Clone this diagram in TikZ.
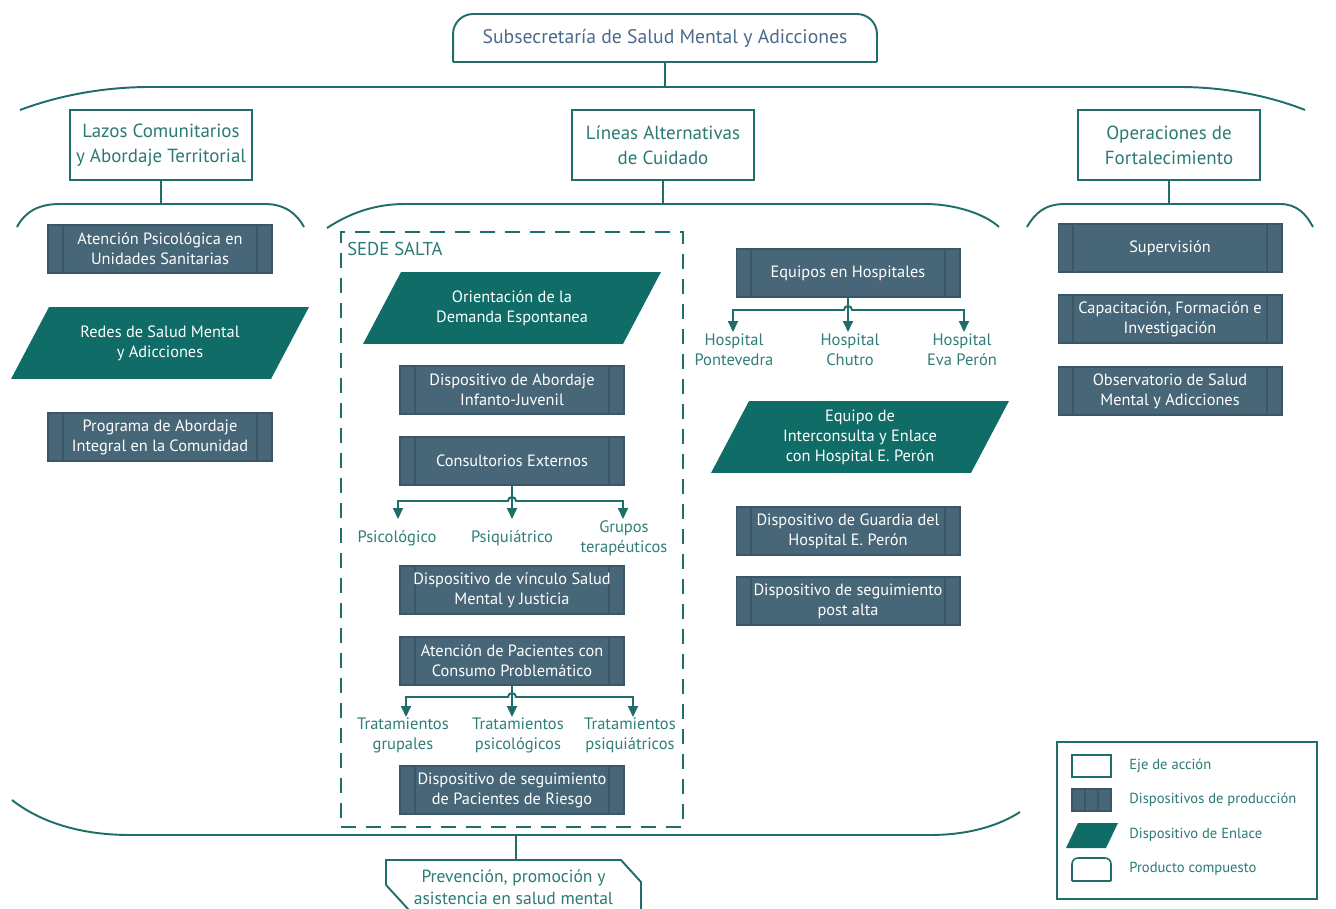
\documentclass[tikz,border=0pt]{standalone}
\usepackage{fontspec}
\setmainfont{PT Sans}
\usetikzlibrary{arrows.meta,backgrounds}

\definecolor{lineteal}{HTML}{1F6E69}
\definecolor{ejetext}{HTML}{2B7A74}
\definecolor{labeltext}{HTML}{2F7E79}
\definecolor{devfill}{HTML}{476677}
\definecolor{devline}{HTML}{3A5767}
\definecolor{enlfill}{HTML}{0F6C67}
\definecolor{titletext}{HTML}{4C6A8A}

\begin{document}
\begin{tikzpicture}[x=0.02cm,y=-0.02cm,
  >={Triangle[width=0.2cm,length=0.22cm]},
  tealframe/.style={draw=lineteal, line width=1.1pt},
  link/.style={draw=lineteal, line width=1.1pt},
  eje/.style={tealframe, fill=white, minimum width=3.64cm, minimum height=1.4cm,
    outer sep=0pt, align=center, text=ejetext, font=\fontsize{10.8}{14.2}\selectfont},
  devbox/.style={fill=devfill, draw=devline, line width=0.6pt, minimum width=4.48cm,
    minimum height=0.96cm, outer sep=0pt, align=center, text=white,
    font=\fontsize{9.3}{11.4}\selectfont,
    path picture={
      \draw[devline, line width=0.9pt]
        ([xshift=0.3cm]path picture bounding box.north west) -- ([xshift=0.3cm]path picture bounding box.south west)
        ([xshift=-0.3cm]path picture bounding box.north east) -- ([xshift=-0.3cm]path picture bounding box.south east);}},
  enlace/.style={minimum width=5.2cm, minimum height=1.44cm, outer sep=0pt, inner sep=0pt,
    align=center, text=white, font=\fontsize{9.3}{11.4}\selectfont},
  lbl/.style={align=center, text=labeltext, inner sep=0pt, font=\fontsize{9.4}{11.4}\selectfont},
  legtext/.style={anchor=west, inner sep=0pt, text=ejetext, font=\fontsize{8.3}{9.5}\selectfont}
]
\useasboundingbox (0,0) rectangle (1336,909);
\clip (0,0) rectangle (1336,909);
\begin{scope}[on background layer]
  \fill[white] (0,0) rectangle (1336,909);
\end{scope}

% ---------- head ----------
\node[minimum width=8.48cm, minimum height=0.96cm, outer sep=0pt, text=titletext,
      font=\fontsize{11.2}{13}\selectfont] (sub) at (665,38) {Subsecretaría de Salud Mental y Adicciones};
\draw[tealframe, rounded corners=0.4cm] (sub.south west) -- (sub.north west) -- (sub.north east) -- (sub.south east);
\draw[tealframe] (sub.south west) -- (sub.south east);

\coordinate (topbar) at (665,87);
\draw[link] (sub.south) -- (topbar);
\draw[link] (20,110) .. controls (60,95) and (105,87) .. (150,87) -- (1180,87)
            .. controls (1225,87) and (1270,96) .. (1305,110);

% ---------- axes ----------
\node[eje] (lazos) at (161,145) {Lazos Comunitarios\\y Abordaje Territorial};
\node[eje] (lineas) at (663,145) {Líneas Alternativas\\de Cuidado};
\node[eje] (oper) at (1169,145) {Operaciones de\\Fortalecimiento};

\coordinate (barL) at (161,204);
\coordinate (barM) at (663,204);
\coordinate (barR) at (1169,204);
\draw[link] (lazos.south) -- (barL);
\draw[link] (lineas.south) -- (barM);
\draw[link] (oper.south) -- (barR);

\draw[link] (17,227) .. controls (25,212) and (38,204) .. (60,204) -- (265,204)
            .. controls (285,204) and (297,214) .. (304,227);
\draw[link] (327,228) .. controls (350,213) and (375,204) .. (405,204) -- (925,204)
            .. controls (955,204) and (985,214) .. (999,227);
\draw[link] (1027,227) .. controls (1035,213) and (1045,204) .. (1065,204) -- (1280,204)
            .. controls (1297,204) and (1306,214) .. (1313,227);

% ---------- left column ----------
\node[devbox] (aps) at (160,249) {Atención Psicológica en\\Unidades Sanitarias};
\node[enlace] (redes) at (160,343) {Redes de Salud Mental\\y Adicciones};
\node[devbox] (prog) at (160,437) {Programa de Abordaje\\Integral en la Comunidad};

% ---------- central column: Sede Salta ----------
\node[draw=lineteal, line width=1.1pt, dash pattern=on 0.3cm off 0.2cm,
      minimum width=6.84cm, minimum height=11.9cm, outer sep=0pt] (sede) at (512,529.5) {};
\node[anchor=west, inner sep=0pt, text=ejetext, font=\fontsize{10.6}{12}\selectfont] (sedelbl) at (347,249) {SEDE SALTA};

\node[enlace] (orient) at (512,308) {Orientación de la\\Demanda Espontanea};
\node[devbox] (dai) at (512,390) {Dispositivo de Abordaje\\Infanto-Juvenil};
\node[devbox] (cons) at (512,461) {Consultorios Externos};

\node[lbl] (psico) at (397,538) {Psicológico};
\node[lbl] (psiq) at (512,538) {Psiquiátrico};
\node[lbl] (grupos) at (624,538) {Grupos\\terapéuticos};
\coordinate (consJ) at (512,501);
\coordinate (consL) at (398,519);
\coordinate (consM) at (512,519);
\coordinate (consR) at (623,519);
\draw[link,->] (cons.south) -- (consM);
\draw[link,<->] (consL) -- (consL |- consJ) -- ([xshift=-0.08cm]consJ)
      arc[start angle=180,end angle=0,radius=0.08cm] -- (consR |- consJ) -- (consR);

\node[devbox] (vinc) at (512,590) {Dispositivo de vínculo Salud\\Mental y Justicia};
\node[devbox] (acp) at (512,661) {Atención de Pacientes con\\Consumo Problemático};

\node[lbl] (tgru) at (403,735) {Tratamientos\\grupales};
\node[lbl] (tpsc) at (518,735) {Tratamientos\\psicológicos};
\node[lbl] (tpsq) at (630,735) {Tratamientos\\psiquiátricos};
\coordinate (acpJ) at (512,697);
\coordinate (acpL) at (406,717);
\coordinate (acpM) at (512,717);
\coordinate (acpR) at (633,717);
\draw[link,->] (acp.south) -- (acpM);
\draw[link,<->] (acpL) -- (acpL |- acpJ) -- ([xshift=-0.08cm]acpJ)
      arc[start angle=180,end angle=0,radius=0.08cm] -- (acpR |- acpJ) -- (acpR);

\node[devbox] (dsr) at (512,790) {Dispositivo de seguimiento\\de Pacientes de Riesgo};

% ---------- central column: hospitals ----------
\node[devbox] (eqh) at (848,273) {Equipos en Hospitales};
\node[lbl] (hpon) at (734,350) {Hospital\\Pontevedra};
\node[lbl] (hchu) at (850,350) {Hospital\\Chutro};
\node[lbl] (heva) at (962,350) {Hospital\\Eva Perón};
\coordinate (eqhJ) at (848,310);
\coordinate (eqhL) at (733,332);
\coordinate (eqhM) at (848,332);
\coordinate (eqhR) at (964,332);
\draw[link,->] (eqh.south) -- (eqhM);
\draw[link,<->] (eqhL) -- (eqhL |- eqhJ) -- ([xshift=-0.08cm]eqhJ)
      arc[start angle=180,end angle=0,radius=0.08cm] -- (eqhR |- eqhJ) -- (eqhR);

\node[enlace] (inter) at (860,437) {Equipo de\\Interconsulta y Enlace\\con Hospital E. Perón};
\node[devbox] (guard) at (848,531) {Dispositivo de Guardia del\\Hospital E. Perón};
\node[devbox] (post) at (848,601) {Dispositivo de seguimiento\\post alta};

% ---------- right column ----------
\node[devbox] (sup) at (1170,248) {Supervisión};
\node[devbox] (cap) at (1170,319) {Capacitación, Formación e\\Investigación};
\node[devbox] (obs) at (1170,391) {Observatorio de Salud\\Mental y Adicciones};

% ---------- linking parallelograms ----------
\begin{scope}[on background layer]
  \foreach \n in {redes,orient,inter}
    \fill[enlfill] ([xshift=0.38cm]\n.north west) -- ([xshift=0.38cm]\n.north east)
                -- ([xshift=-0.38cm]\n.south east) -- ([xshift=-0.38cm]\n.south west) -- cycle;
\end{scope}

% ---------- bottom ----------
\draw[link] (12,800) .. controls (40,822) and (80,835) .. (130,835) -- (930,835)
            .. controls (970,835) and (1000,825) .. (1020,812);
\coordinate (botbar) at (516,835);
\node[inner sep=0pt, align=center, text=ejetext, font=\fontsize{10}{12.4}\selectfont] (prev) at (513.5,887)
      {Prevención, promoción y\\asistencia en salud mental};
\coordinate (prevtop) at (516,860);
\draw[link] (botbar) -- (prevtop);
\draw[tealframe] ([xshift=-2.55cm,yshift=0.04cm]prev.center) -- ([xshift=-2.55cm,yshift=0.54cm]prev.center)
      -- ([xshift=2.15cm,yshift=0.54cm]prev.center) -- ([xshift=2.55cm,yshift=0.10cm]prev.center)
      -- ([xshift=2.55cm,yshift=-0.7cm]prev.center);
\draw[tealframe] ([xshift=-2.55cm,yshift=0.04cm]prev.center) -- ([xshift=-2.0cm,yshift=-0.56cm]prev.center);

% ---------- legend ----------
\node[draw=lineteal, line width=1.1pt, minimum width=5.2cm, minimum height=3.14cm, outer sep=0pt] (leg) at (1187,820.5) {};
\node[draw=lineteal, line width=0.9pt, fill=white, minimum width=0.78cm, minimum height=0.44cm, outer sep=0pt] (ic1) at (1091.5,766) {};
\node[fill=devfill, draw=devline, line width=0.6pt, minimum width=0.78cm, minimum height=0.44cm, outer sep=0pt,
      path picture={
        \draw[devline, line width=0.8pt]
          ([xshift=0.26cm]path picture bounding box.north west) -- ([xshift=0.26cm]path picture bounding box.south west)
          ([xshift=-0.26cm]path picture bounding box.north east) -- ([xshift=-0.26cm]path picture bounding box.south east);}] (ic2) at (1091.5,800) {};
\node[minimum width=0.8cm, minimum height=0.5cm, outer sep=0pt, inner sep=0pt] (ic3) at (1092,835.5) {};
\fill[enlfill] ([xshift=0.12cm]ic3.north west) -- ([xshift=0.12cm]ic3.north east)
            -- ([xshift=-0.12cm]ic3.south east) -- ([xshift=-0.12cm]ic3.south west) -- cycle;
\node[minimum width=0.78cm, minimum height=0.46cm, outer sep=0pt] (ic4) at (1091.5,869.5) {};
\draw[draw=lineteal, line width=0.9pt, rounded corners=0.12cm] (ic4.south west) -- (ic4.north west) -- (ic4.north east) -- (ic4.south east);
\draw[draw=lineteal, line width=0.9pt] (ic4.south west) -- (ic4.south east);

\node[legtext] (lt1) at (1129,766) {Eje de acción};
\node[legtext] (lt2) at (1129,800) {Dispositivos de producción};
\node[legtext] (lt3) at (1129,835) {Dispositivo de Enlace};
\node[legtext] (lt4) at (1129,869) {Producto compuesto};
\end{tikzpicture}
\end{document}
